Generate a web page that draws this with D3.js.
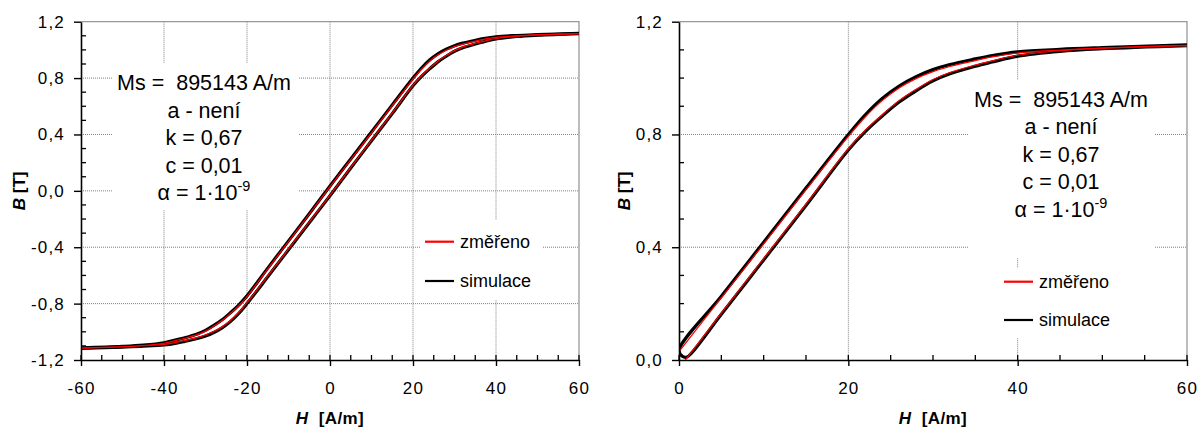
<!DOCTYPE html>
<html>
<head>
<meta charset="utf-8">
<script src="https://cdn.jsdelivr.net/npm/d3@7"></script>
<style>
body { margin: 0; background: #fff; }
text { font-family: Arial, "Liberation Sans", sans-serif; fill: #000; }
</style>
</head>
<body>
<div id="chart"></div>
<script>
// hysteresis loop, descending branch (from +60 down to -60 A/m)
var hDesc = [60, 50, 45, 40, 37, 35, 32, 30, 28, 26, 24, 22, 20, 15, 10, 5, 0, -5, -10, -15, -20, -22, -24, -26, -28, -30, -32, -35, -37, -40, -45, -50, -60]
var simDescB = [1.118, 1.108, 1.102, 1.093, 1.080, 1.068, 1.048, 1.030, 1.005, 0.972, 0.928, 0.870, 0.800, 0.610, 0.418, 0.226, 0.035, -0.162, -0.355, -0.548, -0.745, -0.810, -0.865, -0.915, -0.955, -0.990, -1.015, -1.042, -1.057, -1.078, -1.095, -1.104, -1.115]
var measDescB = [1.116, 1.106, 1.099, 1.089, 1.075, 1.062, 1.041, 1.023, 0.998, 0.965, 0.920, 0.862, 0.793, 0.604, 0.412, 0.221, 0.030, -0.166, -0.360, -0.553, -0.750, -0.815, -0.870, -0.920, -0.960, -0.995, -1.020, -1.046, -1.061, -1.081, -1.097, -1.106, -1.116]

// ascending branch (from -60 up to +60 A/m)
var hAsc = [-60, -50, -45, -40, -37, -35, -32, -30, -28, -26, -24, -22, -20, -15, -10, -5, 0, 5, 10, 15, 20, 22, 24, 26, 28, 30, 32, 35, 37, 40, 45, 50, 60]
var simAscB = [-1.118, -1.108, -1.102, -1.093, -1.080, -1.068, -1.048, -1.030, -1.005, -0.972, -0.928, -0.870, -0.800, -0.610, -0.418, -0.226, -0.035, 0.162, 0.355, 0.548, 0.745, 0.810, 0.865, 0.915, 0.955, 0.990, 1.015, 1.042, 1.057, 1.078, 1.095, 1.104, 1.115]
var measAscB = [-1.116, -1.106, -1.099, -1.089, -1.075, -1.062, -1.041, -1.023, -0.998, -0.965, -0.920, -0.862, -0.793, -0.604, -0.412, -0.221, -0.030, 0.166, 0.360, 0.553, 0.750, 0.815, 0.870, 0.920, 0.960, 0.995, 1.020, 1.046, 1.061, 1.081, 1.097, 1.106, 1.116]

// turning point of the simulation near the origin (right chart)
var hookH = [0, 0.4, 0.9, 1.5]
var hookB = [0.035, 0.013, 0.010, 0.025]

var paramLines = ["Ms =  895143 A/m", "a - není", "k = 0,67", "c = 0,01", "α = 1·10"]
var alphaExp = "-9"
var legendNames = ["změřeno", "simulace"]
var legendColors = ["#ff0000", "#000000"]

var W = 1199, H = 435

var svg = d3.select("#chart").append("svg")
    .attr("width", W)
    .attr("height", H)
    .style("display", "block")

var loc = d3.formatLocale({decimal: ",", thousands: " ", grouping: [3], currency: ["", ""], minus: "-"})
var fmtB = loc.format(".1f")
var fmtH = loc.format("d")

function pairs(h, b) { return d3.zip(h, b) }

var panels = [
    {
        id: "L", left: 81, right: 579, top: 21.7, bottom: 360,
        hDom: [-60, 60], bDom: [-1.2, 1.2],
        xMajor: [-60, -40, -20, 0, 20, 40, 60],
        xMinor: [-55, -50, -45, -35, -30, -25, -15, -10, -5, 5, 10, 15, 25, 30, 35, 45, 50, 55],
        yMajor: [-1.2, -0.8, -0.4, 0, 0.4, 0.8, 1.2],
        yMinor: [-1.1, -1.0, -0.9, -0.7, -0.6, -0.5, -0.3, -0.2, -0.1, 0.1, 0.2, 0.3, 0.5, 0.6, 0.7, 0.9, 1.0, 1.1],
        box: [113, 63, 298, 210], textX: 204, textY: 90,
        legBox: [420, 220, 542, 300], legX: 425, legY: [241.7, 281],
        btX: 25,
        sim: [pairs(hDesc, simDescB), pairs(hAsc, simAscB)],
        meas: [pairs(hDesc, measDescB), pairs(hAsc, measAscB)]
    },
    {
        id: "R", left: 679, right: 1187, top: 21.7, bottom: 360,
        hDom: [0, 60], bDom: [0, 1.2],
        xMajor: [0, 20, 40, 60],
        xMinor: [5, 10, 15, 25, 30, 35, 45, 50, 55],
        yMajor: [0, 0.4, 0.8, 1.2],
        yMinor: [0.1, 0.2, 0.3, 0.5, 0.6, 0.7, 0.9, 1.0, 1.1],
        box: [968, 80, 1154, 258], textX: 1061, textY: 106.7,
        legBox: [995, 268, 1125, 338], legX: 1004, legY: [281.7, 320],
        btX: 630,
        sim: [pairs(hDesc, simDescB).filter(d => d[0] >= 0)
                .concat(pairs(hookH, hookB).slice(1))
                .concat(pairs(hAsc, simAscB).filter(d => d[0] >= 5))],
        meas: [pairs(hDesc, measDescB).filter(d => d[0] >= 0), pairs(hAsc, measAscB).filter(d => d[0] >= 0)]
    }
]

panels.forEach(function(p) {
    var x = d3.scaleLinear().domain(p.hDom).range([p.left, p.right])
    var y = d3.scaleLinear().domain(p.bDom).range([p.bottom, p.top])
    var g = svg.append("g")

    // dotted grid
    g.selectAll(".vg").data(p.xMajor.slice(1, -1)).join("line")
        .attr("x1", d => x(d)).attr("x2", d => x(d))
        .attr("y1", p.top).attr("y2", p.bottom)
        .attr("stroke", "#808080").attr("stroke-width", 1).attr("stroke-dasharray", "1,1")
    g.selectAll(".hg").data(p.yMajor.slice(1, -1)).join("line")
        .attr("x1", p.left).attr("x2", p.right)
        .attr("y1", d => y(d)).attr("y2", d => y(d))
        .attr("stroke", "#808080").attr("stroke-width", 1).attr("stroke-dasharray", "1,1")

    // plot border top / right
    g.append("path")
        .attr("d", "M" + p.left + "," + p.top + "H" + p.right + "V" + p.bottom)
        .attr("fill", "none").attr("stroke", "#999").attr("stroke-width", 1.3)

    // white boxes behind the labels
    g.append("rect").attr("x", p.box[0]).attr("y", p.box[1])
        .attr("width", p.box[2] - p.box[0]).attr("height", p.box[3] - p.box[1]).attr("fill", "#fff")
    g.append("rect").attr("x", p.legBox[0]).attr("y", p.legBox[1])
        .attr("width", p.legBox[2] - p.legBox[0]).attr("height", p.legBox[3] - p.legBox[1]).attr("fill", "#fff")

    // curves
    var clipId = "clip" + p.id
    svg.append("clipPath").attr("id", clipId).append("rect")
        .attr("x", p.left).attr("y", p.top - 4)
        .attr("width", p.right - p.left + 2).attr("height", p.bottom - p.top + 4)
    var line = d3.line().x(d => x(d[0])).y(d => y(d[1])).curve(d3.curveCatmullRom.alpha(0.5))
    var cg = g.append("g").attr("clip-path", "url(#" + clipId + ")")
    cg.selectAll(".sim").data(p.sim).join("path")
        .attr("d", line).attr("fill", "none").attr("stroke", "#000").attr("stroke-width", 3.2)
    cg.selectAll(".meas").data(p.meas).join("path")
        .attr("d", line).attr("fill", "none").attr("stroke", "#ff0000").attr("stroke-width", 1.2)

    // axes
    var xa = g.append("g").attr("transform", "translate(0," + p.bottom + ")")
        .call(d3.axisBottom(x).tickValues(p.xMajor).tickSizeInner(6).tickSizeOuter(0).tickPadding(16).tickFormat(fmtH))
    var ya = g.append("g").attr("transform", "translate(" + p.left + ",0)")
        .call(d3.axisLeft(y).tickValues(p.yMajor).tickSizeInner(7).tickSizeOuter(0).tickPadding(9).tickFormat(fmtB))
    ;[xa, ya].forEach(function(a) {
        a.select(".domain").attr("stroke", "#000").attr("stroke-width", 1.6)
        a.selectAll(".tick line").attr("stroke", "#000").attr("stroke-width", 1.4)
        a.selectAll(".tick text").style("font-size", "17px").style("font-family", "Arial, 'Liberation Sans', sans-serif")
            .attr("fill", "#000").style("letter-spacing", "1.2px")
    })

    // minor ticks (inside)
    g.selectAll(".xm").data(p.xMinor.concat(p.xMajor)).join("line")
        .attr("x1", d => x(d)).attr("x2", d => x(d))
        .attr("y1", p.bottom - 5).attr("y2", p.bottom)
        .attr("stroke", "#000").attr("stroke-width", 1.3)
    g.selectAll(".ym").data(p.yMinor).join("line")
        .attr("x1", p.left).attr("x2", p.left + 5)
        .attr("y1", d => y(d)).attr("y2", d => y(d))
        .attr("stroke", "#000").attr("stroke-width", 1.3)

    // axis titles
    var ht = g.append("text")
        .attr("x", (p.left + p.right) / 2).attr("y", 424)
        .attr("text-anchor", "middle")
        .style("font-size", "17px").style("font-weight", "bold").style("white-space", "pre")
        .style("letter-spacing", "0.4px")
    ht.append("tspan").style("font-style", "italic").text("H")
    ht.append("tspan").text("  [A/m]")

    var bt = g.append("text")
        .attr("transform", "translate(" + p.btX + "," + ((p.top + p.bottom) / 2) + ") rotate(-90)")
        .attr("text-anchor", "middle")
        .style("font-size", "17px").style("font-weight", "bold").style("white-space", "pre")
    bt.append("tspan").style("font-style", "italic").text("B")
    bt.append("tspan").text(" [T]")

    // parameter text
    var pt = g.selectAll(".par").data(paramLines).join("text")
        .attr("x", p.textX).attr("y", (d, i) => p.textY + i * 27.5)
        .attr("text-anchor", "middle")
        .style("font-size", "21.5px").style("white-space", "pre")
        .text(d => d)
    pt.filter((d, i) => i === paramLines.length - 1)
        .append("tspan").attr("dy", -9).style("font-size", "14.5px").text(alphaExp)

    // legend
    legendNames.forEach(function(name, i) {
        g.append("line")
            .attr("x1", p.legX).attr("x2", p.legX + 29)
            .attr("y1", p.legY[i]).attr("y2", p.legY[i])
            .attr("stroke", legendColors[i]).attr("stroke-width", 2.2)
        g.append("text")
            .attr("x", p.legX + 35).attr("y", p.legY[i] + 6)
            .style("font-size", "18px")
            .text(name)
    })
})
</script>
</body>
</html>
